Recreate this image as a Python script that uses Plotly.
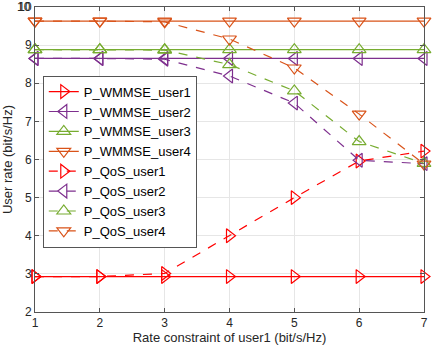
import plotly.graph_objects as go

x = [1, 2, 3, 4, 5, 6, 7]
y_ticks = [2, 3, 4, 5, 6, 7, 8, 9, 10]

wmmse_user1 = [2.93, 2.93, 2.93, 2.93, 2.93, 2.93, 2.93]
wmmse_user2 = [8.65, 8.65, 8.65, 8.65, 8.65, 8.65, 8.65]
wmmse_user3 = [8.88, 8.88, 8.88, 8.88, 8.88, 8.88, 8.88]
wmmse_user4 = [9.63, 9.63, 9.63, 9.63, 9.63, 9.63, 9.63]

qos_user1 = [2.93, 2.93, 3.01, 4.0, 5.0, 5.96, 6.22]
qos_user2 = [8.65, 8.65, 8.63, 8.19, 7.48, 5.98, 5.89]
qos_user3 = [8.88, 8.88, 8.87, 8.49, 7.8, 6.47, 5.9]
qos_user4 = [9.63, 9.63, 9.61, 9.16, 8.4, 7.19, 5.88]

colors = ['#FF0000', '#7E2F8E', '#77AC30', '#D95319']
symbols = ['triangle-right-open', 'triangle-left-open', 'triangle-up-open', 'triangle-down-open']

fig = go.Figure()
for i, ys in enumerate([wmmse_user1, wmmse_user2, wmmse_user3, wmmse_user4]):
    fig.add_trace(go.Scatter(
        x=x, y=ys, mode='lines+markers',
        name='P_WMMSE_user%d' % (i + 1),
        line=dict(color=colors[i], width=1.2),
        marker=dict(symbol=symbols[i], size=12, color=colors[i], line=dict(width=1.2)),
        cliponaxis=False
    ))
for i, ys in enumerate([qos_user1, qos_user2, qos_user3, qos_user4]):
    fig.add_trace(go.Scatter(
        x=x, y=ys, mode='lines+markers',
        name='P_QoS_user%d' % (i + 1),
        line=dict(color=colors[i], width=1.2, dash='dash'),
        marker=dict(symbol=symbols[i], size=12, color=colors[i], line=dict(width=1.2)),
        cliponaxis=False
    ))

axis_style = dict(
    showgrid=True, gridcolor='#e6e6e6', gridwidth=1,
    showline=True, linecolor='#555555', linewidth=1, mirror='ticks',
    ticks='inside', ticklen=4, tickcolor='#555555',
    zeroline=False, tickfont=dict(size=12, color='#262626'),
    automargin=False, ticklabeloverflow='allow',
)

# the top "10" label gets dropped by plotly at the edge, so put it back by hand
fig.add_annotation(x=0, xref='paper', xanchor='right', xshift=-2,
                   y=y_ticks[-1], yref='y', text=str(y_ticks[-1]),
                   showarrow=False, font=dict(size=12, color='#262626'))

fig.update_layout(
    width=432, height=352,
    plot_bgcolor='white', paper_bgcolor='white',
    font=dict(family='Liberation Sans, Arial', color='#262626'),
    margin=dict(l=35, r=8, t=7, b=40),
    xaxis=dict(range=[1, 7], tickvals=x,
               title=dict(text='Rate constraint of user1 (bit/s/Hz)', font=dict(size=13), standoff=2),
               **axis_style),
    yaxis=dict(range=[2, 10], tickvals=y_ticks,
               title=dict(text='User rate (bit/s/Hz)', font=dict(size=13), standoff=6),
               **axis_style),
    legend=dict(
        x=0.02, y=0.775, xanchor='left', yanchor='top',
        bgcolor='white', bordercolor='#555555', borderwidth=1,
        font=dict(size=13, color='#000000'),
        tracegroupgap=0, itemwidth=30,
    ),
    showlegend=True,
)

fig.write_html("out.html", config={'displayModeBar': False},
               post_script="document.body.style.margin='0';document.body.style.overflow='hidden';")
